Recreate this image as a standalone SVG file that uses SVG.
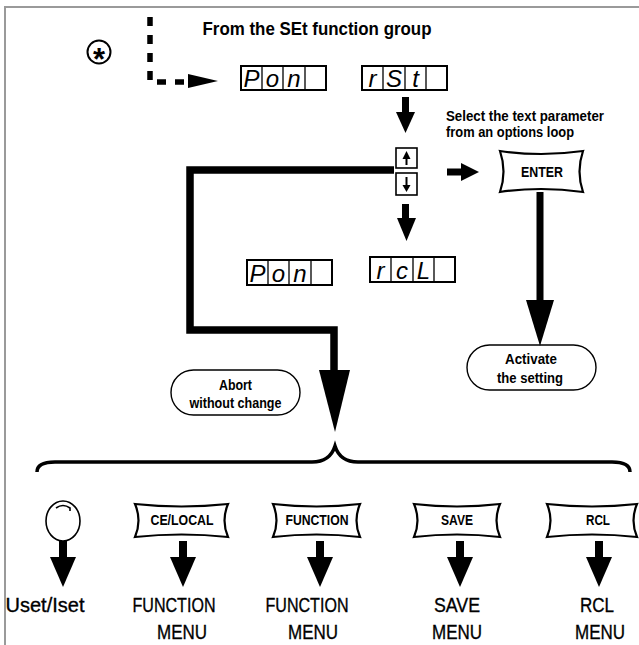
<svg xmlns="http://www.w3.org/2000/svg" width="639" height="645" viewBox="0 0 639 645">
<style>
.lbl{font-family:"Liberation Sans",Arial,sans-serif;font-weight:bold;fill:#000;text-anchor:middle}
.big{font-family:"Liberation Sans",Arial,sans-serif;font-weight:normal;fill:#000;stroke:#000;stroke-width:0.35;text-anchor:middle;font-size:21px}
.seg{font-family:"Liberation Sans",Arial,sans-serif;font-style:italic;fill:#000;text-anchor:middle;font-size:24px}
.box{fill:#fff;stroke:#000;stroke-width:2}
.div{stroke:#000;stroke-width:1.3}
.btn{fill:#fff;stroke:#000;stroke-width:2.2;stroke-linejoin:miter}
.pill{fill:#fff;stroke:#000;stroke-width:1.4}
.ar{fill:#000}
</style>
<rect width="639" height="645" fill="#fff"/>
<path d="M5 645 V7 H639" fill="none" stroke="#9a9a9a" stroke-width="2"/>

<g id="star">
<circle cx="99" cy="52" r="11.5" fill="none" stroke="#000" stroke-width="2"/>
<text x="99" y="69.5" class="lbl" font-size="31">*</text>
</g>

<g id="title"><text x="317" y="35" class="lbl" font-size="18" textLength="229" lengthAdjust="spacingAndGlyphs">From the SEt function group</text></g>

<g id="disp-pon-top">
<rect x="241" y="66" width="85" height="24" class="box"/>
<path d="M262 66V90M283 66V90M305 66V90" class="div"/>
<text x="251.5" y="87" class="seg">P</text><text x="272.5" y="87" class="seg">o</text><text x="294" y="87" class="seg">n</text>
</g>
<g id="disp-rst">
<rect x="362" y="66" width="85" height="24" class="box"/>
<path d="M383 66V90M405 66V90M426 66V90" class="div"/>
<text x="372.5" y="87" class="seg">r</text><text x="394" y="87" class="seg">S</text><text x="415.5" y="87" class="seg">t</text>
</g>

<g id="updown">
<rect x="396" y="148" width="21" height="20" fill="#fff" stroke="#000" stroke-width="1.6"/>
<rect x="396" y="173" width="21" height="22" fill="#fff" stroke="#000" stroke-width="1.6"/>
<path d="M406.5 165V157" stroke="#000" stroke-width="2"/><polygon points="402.5,159 410.5,159 406.5,151" class="ar"/>
<path d="M406.5 177V186" stroke="#000" stroke-width="2"/><polygon points="402.5,185 410.5,185 406.5,192" class="ar"/>
</g>

<g id="hint"><text x="525" y="121" class="lbl" font-size="14" textLength="158" lengthAdjust="spacingAndGlyphs">Select the text parameter</text>
<text x="446" y="137" class="lbl" font-size="14" style="text-anchor:start" textLength="128" lengthAdjust="spacingAndGlyphs">from an options loop</text></g>

<g id="enter">
<path d="M500 151 Q541 157 583 151 Q576 171.5 583 192 Q541 186 500 192 Q507 171.5 500 151 Z" class="btn"/>
<text x="542" y="177" class="lbl" font-size="14" textLength="42" lengthAdjust="spacingAndGlyphs">ENTER</text>
</g>

<g id="disp-pon-bottom">
<rect x="247" y="260" width="85" height="25" class="box"/>
<path d="M268 260V285M289 260V285M311 260V285" class="div"/>
<text x="257.5" y="282" class="seg">P</text><text x="278.5" y="282" class="seg">o</text><text x="300" y="282" class="seg">n</text>
</g>
<g id="disp-rcl">
<rect x="370" y="257" width="85" height="25" class="box"/>
<path d="M391 257V282M413 257V282M434 257V282" class="div"/>
<text x="380.5" y="279" class="seg">r</text><text x="402" y="279" class="seg">c</text><text x="423.5" y="279" class="seg">L</text>
</g>

<g id="abort">
<rect x="171" y="370" width="129" height="45" rx="22.5" class="pill"/>
<text x="235.5" y="390" class="lbl" font-size="15" textLength="33" lengthAdjust="spacingAndGlyphs">Abort</text>
<text x="235.5" y="408" class="lbl" font-size="15" textLength="92" lengthAdjust="spacingAndGlyphs">without change</text>
</g>
<g id="activate">
<rect x="467" y="345" width="129" height="45" rx="22.5" class="pill"/>
<text x="531" y="364" class="lbl" font-size="15" textLength="52" lengthAdjust="spacingAndGlyphs">Activate</text>
<text x="530" y="383" class="lbl" font-size="15" textLength="66" lengthAdjust="spacingAndGlyphs">the setting</text>
</g>

<g id="knob">
<ellipse cx="63" cy="521" rx="17" ry="20" fill="#fff" stroke="#000" stroke-width="1.6"/>
<path d="M56 508 Q63 503 70 508 l0 3" fill="none" stroke="#000" stroke-width="1.6"/>
</g>
<g id="btn-celocal">
<path d="M135 504 Q181.5 509 228 504 Q221 520.5 228 537 Q181.5 532 135 537 Q142 520.5 135 504 Z" class="btn"/>
<text x="182" y="525" class="lbl" font-size="14" textLength="63" lengthAdjust="spacingAndGlyphs">CE/LOCAL</text>
</g>
<g id="btn-function">
<path d="M273 504 Q316.5 509 360 504 Q353 520.5 360 537 Q316.5 532 273 537 Q280 520.5 273 504 Z" class="btn"/>
<text x="317" y="525" class="lbl" font-size="14" textLength="63" lengthAdjust="spacingAndGlyphs">FUNCTION</text>
</g>
<g id="btn-save">
<path d="M414 504 Q457 509 500 504 Q493 520.5 500 537 Q457 532 414 537 Q421 520.5 414 504 Z" class="btn"/>
<text x="457" y="525" class="lbl" font-size="14" textLength="32" lengthAdjust="spacingAndGlyphs">SAVE</text>
</g>
<g id="btn-rcl">
<path d="M547 504 Q592 509 637 504 Q630 520.5 637 537 Q592 532 547 537 Q554 520.5 547 504 Z" class="btn"/>
<text x="598" y="525" class="lbl" font-size="14" textLength="24" lengthAdjust="spacingAndGlyphs">RCL</text>
</g>

<g id="results">
<text x="45" y="612" class="big" textLength="79" lengthAdjust="spacingAndGlyphs">Uset/Iset</text>
<text x="174" y="612" class="big" textLength="83" lengthAdjust="spacingAndGlyphs">FUNCTION</text>
<text x="182" y="639" class="big" textLength="50" lengthAdjust="spacingAndGlyphs">MENU</text>
<text x="307" y="612" class="big" textLength="83" lengthAdjust="spacingAndGlyphs">FUNCTION</text>
<text x="313" y="639" class="big" textLength="50" lengthAdjust="spacingAndGlyphs">MENU</text>
<text x="457" y="612" class="big" textLength="46" lengthAdjust="spacingAndGlyphs">SAVE</text>
<text x="457" y="639" class="big" textLength="50" lengthAdjust="spacingAndGlyphs">MENU</text>
<text x="597" y="612" class="big" textLength="34" lengthAdjust="spacingAndGlyphs">RCL</text>
<text x="600" y="639" class="big" textLength="50" lengthAdjust="spacingAndGlyphs">MENU</text>
</g>

<g id="connectors">
<path d="M150 17 V82 H190" fill="none" stroke="#000" stroke-width="5.5" stroke-dasharray="9 9"/>
<polygon points="188,74 188,88 218,81" class="ar"/>
<rect x="402" y="97" width="7" height="17" class="ar"/><polygon points="396,112 415,112 405.5,133" class="ar"/>
<rect x="402" y="204" width="7" height="16" class="ar"/><polygon points="397,218 416,218 406.5,241" class="ar"/>
<rect x="447" y="168.5" width="16" height="7" class="ar"/><polygon points="461,163 461,181 479,172" class="ar"/>
<rect x="536.5" y="192" width="7" height="110" class="ar"/><polygon points="526,300 554,300 540,346" class="ar"/>
<path d="M394 170 H190 V330 H334 V372" fill="none" stroke="#000" stroke-width="7.5" stroke-linejoin="miter"/>
<polygon points="319,370 350,370 335,432" class="ar"/>
<path d="M37 472 Q37 462 55 462 H312 Q330 462 335 446 Q340 462 358 462 H612 Q630 462 630 472" fill="none" stroke="#000" stroke-width="3.5"/>
<rect x="59" y="541" width="8" height="18" class="ar"/><polygon points="50,557 76,557 63,587" class="ar"/>
<rect x="179" y="541" width="8" height="18" class="ar"/><polygon points="170,557 196,557 183,587" class="ar"/>
<rect x="316" y="541" width="8" height="18" class="ar"/><polygon points="307,557 333,557 320,587" class="ar"/>
<rect x="456" y="541" width="8" height="18" class="ar"/><polygon points="447,557 473,557 460,587" class="ar"/>
<rect x="595" y="541" width="8" height="18" class="ar"/><polygon points="586,557 612,557 599,587" class="ar"/>
</g>
</svg>
